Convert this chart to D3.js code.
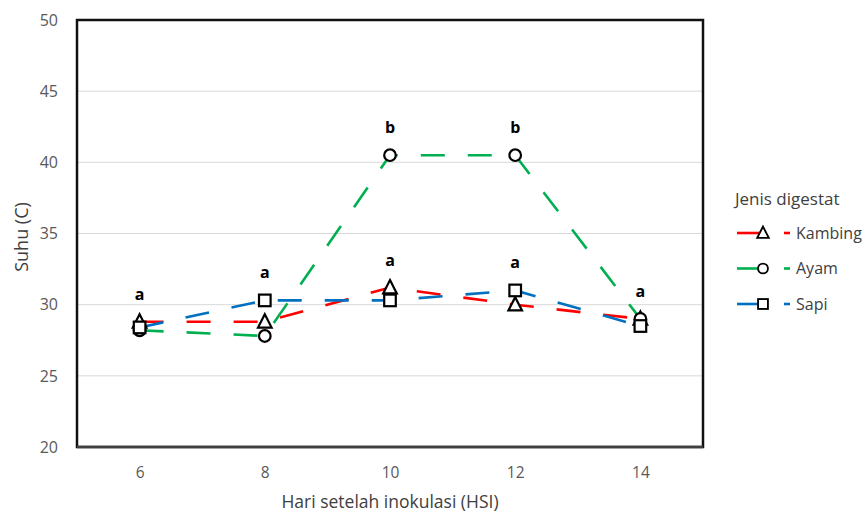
<!DOCTYPE html>
<html>
<head>
<meta charset="utf-8">
<script src="https://cdn.jsdelivr.net/npm/d3@7"></script>
<style>
  body { margin: 0; background: #fff; }
  svg text { font-family: "Open Sans", "Noto Sans", sans-serif; }
</style>
</head>
<body>
<svg class="chart" width="867" height="515"></svg>
<script>
// values
var days = [6, 8, 10, 12, 14];
var kambing = [28.8, 28.8, 31.2, 30.0, 29.0];
var ayam = [28.2, 27.8, 40.5, 40.5, 29.0];
var sapi = [28.4, 30.3, 30.3, 31.0, 28.5];
var notes = [
	{ day: 6, text: "a", over: 28.8 },
	{ day: 8, text: "a", over: 30.3 },
	{ day: 10, text: "b", over: 40.5 },
	{ day: 10, text: "a", over: 31.2 },
	{ day: 12, text: "b", over: 40.5 },
	{ day: 12, text: "a", over: 31.0 },
	{ day: 14, text: "a", over: 29.0 }
];
var yTicks = [20, 25, 30, 35, 40, 45, 50];

var series = [
	{ name: "Kambing", values: kambing, color: "#ff0000", marker: "triangle" },
	{ name: "Ayam", values: ayam, color: "#00b050", marker: "circle" },
	{ name: "Sapi", values: sapi, color: "#0070c0", marker: "square" }
];

var margin = { top: 20, left: 77, right: 164, bottom: 68 };
var width = 867 - margin.left - margin.right,
	height = 515 - margin.top - margin.bottom;

var chart = d3.select(".chart");
var g = chart.append("g")
	.attr("transform", "translate(" + margin.left + "," + margin.top + ")");

var x = d3.scalePoint()
	.domain(days)
	.range([0, width])
	.padding(0.5);

var y = d3.scaleLinear()
	.domain([20, 50])
	.range([height, 0]);

// grid
g.selectAll("line.grid")
	.data(yTicks.filter(function(d) { return d > 20 && d < 50; }))
.enter().append("line")
	.attr("class", "grid")
	.attr("x1", 0)
	.attr("x2", width)
	.attr("y1", function(d) { return y(d); })
	.attr("y2", function(d) { return y(d); })
	.style("stroke", "#d9d9d9")
	.style("stroke-width", 1);

// y labels
g.selectAll("text.ytick")
	.data(yTicks)
.enter().append("text")
	.attr("class", "ytick")
	.attr("x", -19)
	.attr("y", function(d) { return y(d); })
	.attr("dy", ".36em")
	.style("text-anchor", "end")
	.style("font-size", "16px")
	.style("fill", "#595959")
	.text(function(d) { return d; });

// x labels
var xAxis = g.append("g")
	.attr("transform", "translate(0," + height + ")")
	.call(d3.axisBottom(x).tickSize(0).tickPadding(20));
xAxis.select(".domain").remove();
xAxis.selectAll("text")
	.style("font-size", "15.5px")
	.style("fill", "#595959")
	.style("font-family", "'Open Sans', sans-serif");

// frame
g.append("rect")
	.attr("width", width)
	.attr("height", height)
	.style("fill", "none")
	.style("stroke", "#111")
	.style("stroke-width", 2.5);
g.append("line")
	.attr("x1", 0).attr("x2", width)
	.attr("y1", height).attr("y2", height)
	.style("stroke", "#404040")
	.style("stroke-width", 2.5);

// lines
var line = d3.line()
	.x(function(d, i) { return x(days[i]); })
	.y(function(d) { return y(d); });

g.selectAll("path.series")
	.data(series)
.enter().append("path")
	.attr("class", "series")
	.attr("d", function(d) { return line(d.values); })
	.style("fill", "none")
	.style("stroke", function(d) { return d.color; })
	.style("stroke-width", 2.6)
	.style("stroke-dasharray", "24,23");

function drawMarker(sel, type) {
	if (type == "circle") {
		sel.append("circle").attr("r", 5.8);
	} else if (type == "square") {
		sel.append("rect").attr("x", -5.8).attr("y", -5.8).attr("width", 11.6).attr("height", 11.6);
	} else {
		sel.append("path").attr("d", "M0,-7.5L6.8,5.8L-6.8,5.8Z");
	}
	sel.selectAll("*")
		.style("fill", "#fff")
		.style("stroke", "#000")
		.style("stroke-width", 2.2);
}

series.forEach(function(s) {
	s.values.forEach(function(v, i) {
		var m = g.append("g")
			.attr("transform", "translate(" + x(days[i]) + "," + y(v) + ")");
		drawMarker(m, s.marker);
	});
});

// letters
g.selectAll("text.note")
	.data(notes)
.enter().append("text")
	.attr("class", "note")
	.attr("x", function(d) { return x(d.day); })
	.attr("y", function(d) { return y(d.over) - 22; })
	.style("text-anchor", "middle")
	.style("font-size", "16px")
	.style("font-weight", "bold")
	.style("fill", "#000")
	.text(function(d) { return d.text; });

// axis titles
chart.append("text")
	.attr("x", margin.left + width / 2)
	.attr("y", 508)
	.style("text-anchor", "middle")
	.style("font-size", "17.5px")
	.style("fill", "#404040")
	.text("Hari setelah inokulasi (HSI)");

chart.append("text")
	.attr("transform", "translate(28,237) rotate(-90)")
	.style("text-anchor", "middle")
	.style("font-size", "18px")
	.style("fill", "#404040")
	.text("Suhu (C)");

// legend
var legend = chart.append("g").attr("transform", "translate(722,0)");
legend.append("text")
	.attr("x", 13)
	.attr("y", 205)
	.style("font-size", "17px")
	.style("fill", "#404040")
	.text("Jenis digestat");

var item = legend.selectAll("g.item")
	.data(series)
.enter().append("g")
	.attr("class", "item")
	.attr("transform", function(d, i) { return "translate(0," + (233 + i * 35.5) + ")"; });

item.append("line")
	.attr("x1", 15).attr("x2", 40)
	.style("stroke", function(d) { return d.color; })
	.style("stroke-width", 2.6);
item.each(function(d) {
	var m = d3.select(this).append("g").attr("transform", "translate(41,0) scale(0.85)");
	drawMarker(m, d.marker);
});
item.append("line")
	.attr("x1", 62).attr("x2", 68)
	.style("stroke", function(d) { return d.color; })
	.style("stroke-width", 2.6);
item.append("text")
	.attr("x", 74)
	.attr("dy", ".35em")
	.style("font-size", "16px")
	.style("fill", "#404040")
	.text(function(d) { return d.name; });
</script>
</body>
</html>
